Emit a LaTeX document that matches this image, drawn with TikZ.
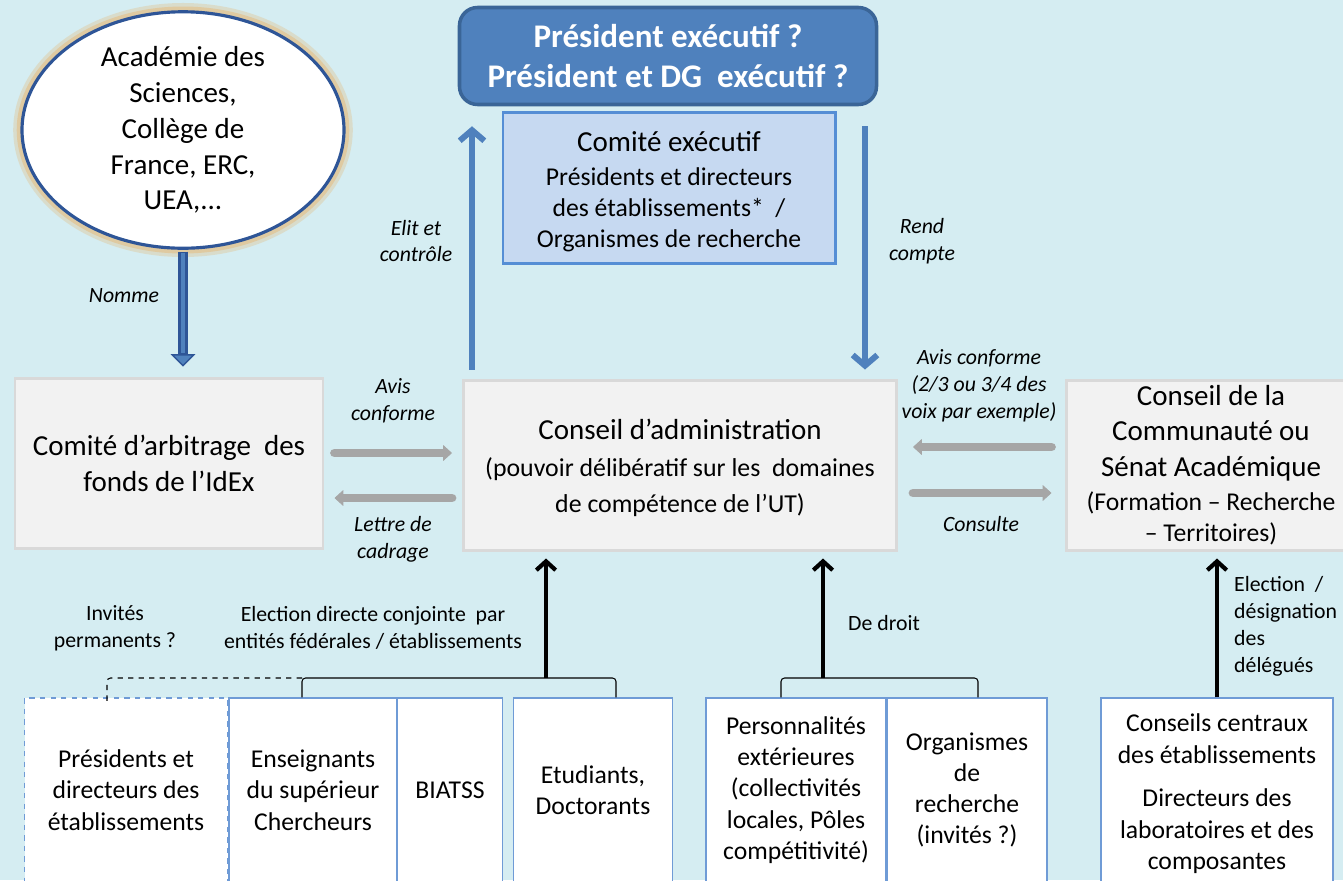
\documentclass[tikz,border=0pt]{standalone}
\usepackage{fontspec}
\setmainfont{Carlito}
\usetikzlibrary{shapes.geometric,arrows.meta}

\newdimen\px \px=0.02cm
\newcommand{\grandf}{\fontsize{16.5}{20.4}\selectfont}
\newcommand{\moyenf}{\fontsize{14.6}{17.8}\selectfont}

\definecolor{fondbleu}{HTML}{D5EDF2}
\definecolor{presfond}{HTML}{4F81BD}
\definecolor{presbord}{HTML}{3A6597}
\definecolor{comexfond}{HTML}{C6D9F1}
\definecolor{comexbord}{HTML}{558ED5}
\definecolor{bleufleche}{HTML}{4F81BD}
\definecolor{bleufonce}{HTML}{2E5597}
\definecolor{halo}{HTML}{E3BE85}
\definecolor{grisfond}{HTML}{F2F2F2}
\definecolor{grisbord}{HTML}{D9D9D9}
\definecolor{grisfleche}{HTML}{A6A6A6}
\definecolor{basbord}{HTML}{6F9BD6}

\tikzset{
  grand/.style={font=\grandf},
  moyen/.style={font=\moyenf},
  petit/.style={font=\fontsize{12.4}{15.3}\selectfont},
  etiq/.style={font=\fontsize{12.4}{15.3}\selectfont\itshape, align=center},
  grisbox/.style={draw=grisbord, fill=grisfond, line width=1.7pt, inner sep=2pt, align=center, minimum height=170\px},
  basbox/.style={draw=basbord, fill=white, line width=0.7pt, minimum height=184\px, inner sep=1pt, align=center, moyen},
  fleche/.style={draw=bleufleche, line width=3.4pt, -{Straight Barb[length=6pt,width=14pt]}},
  grise/.style={draw=grisfleche, line width=5pt, line cap=round, -{Triangle[length=5pt,width=9pt,line width=0.4pt]}},
  noire/.style={line width=2.4pt, -{Straight Barb[length=5pt,width=11pt]}},
  crochet/.style={line width=0.6pt, rounded corners=2pt}
}

\begin{document}
\begin{tikzpicture}[x=0.02cm,y=-0.02cm]
  \useasboundingbox (0,0) rectangle (1343,880);
  \fill[fondbleu] (0,0) rectangle (1343,880);

  % haut
  \node[ellipse, draw=bleufonce, line width=1.8pt, fill=white, minimum width=322\px, minimum height=222\px,
        inner sep=0pt, align=center, grand,
        preaction={draw=halo, line width=10pt, opacity=.35},
        preaction={draw=halo, line width=6pt, opacity=.6}] (acad) at (183,130)
        {Académie des\\Sciences,\\Collège de\\France, ERC,\\UEA,...};
  \node[draw=presbord, fill=presfond, line width=2pt, rounded corners=0.36cm, minimum width=417\px, minimum height=97\px,
        text=white, font=\fontsize{18.8}{22.7}\selectfont\bfseries, align=center] (pres) at (668,56)
        {Président exécutif ?\\Président et DG\ \ exécutif ?};
  \node[draw=comexbord, fill=comexfond, line width=1.7pt, minimum width=332\px, minimum height=151\px,
        align=center, moyen] (comex) at (669,188)
        {\\[-2.2pt]{\grandf Comité exécutif}\\[1.5pt]Présidents et directeurs\\des établissements*\ \ /\\Organismes de recherche};

  % milieu
  \node[grisbox, minimum width=308\px, grand] (arb) at (169,463) {Comité d’arbitrage\ \ des\\fonds de l’IdEx};
  \node[grisbox, minimum width=433\px, font=\fontsize{14.7}{20.8}\selectfont] (ca) at (680,465)
        {\\[-5.7pt]{\grandf Conseil d’administration}\\(pouvoir délibératif sur les\ \ domaines\\de compétence de l’UT)};
  \node[grisbox, minimum width=290\px, grand] (conseil) at (1211,465)
        {Conseil de la\\Communauté ou\\Sénat Académique\\[-1pt]{\moyenf (Formation – Recherche}\\[-3pt]{\moyenf – Territoires)}};

  % bas
  \node[basbox, dashed, minimum width=203\px] (pdir) at (126,790) {Présidents et\\directeurs des\\établissements};
  \node[basbox, minimum width=168\px] (ens) at (313,790) {Enseignants\\du supérieur\\Chercheurs};
  \node[basbox, minimum width=105\px] (biatss) at (450,790) {BIATSS};
  \node[basbox, minimum width=159\px] (etud) at (593,790) {Etudiants,\\Doctorants};
  \node[basbox, minimum width=180\px] (perso) at (796,790) {Personnalités\\extérieures\\(collectivités\\locales, Pôles\\compétitivité)};
  \node[basbox, minimum width=160\px] (orga) at (967,790) {Organismes\\de\\recherche\\(invités ?)};
  \node[basbox, minimum width=232\px] (ccent) at (1217,790)
        {\\[-3.4pt]Conseils centraux\\des établissements\\[7pt]Directeurs des\\laboratoires et des\\composantes};

  % etiquettes
  \node[etiq] (lnomme) at (124,296) {Nomme};
  \node[etiq] (lelit) at (416,241) {Elit et\\contrôle};
  \node[etiq] (lrend) at (922,241) {Rend\\compte};
  \node[etiq] (lavis) at (393,401) {Avis\\conforme};
  \node[etiq] (lcadr) at (393,539) {Lettre de\\cadrage};
  \node[etiq] (lavisb) at (979,386) {Avis conforme\\(2/3 ou 3/4 des\\voix par exemple)};
  \node[etiq] (lcons) at (981,524) {Consulte};
  \node[petit, align=center] (linv) at (115,628) {Invités\\permanents ?};
  \node[petit, align=center] (lelec) at (373,628) {Election directe conjointe\ \ par\\entités fédérales / établissements};
  \node[petit, anchor=west] (ldroit) at (842,623) {De droit};
  \node[petit, align=left, anchor=west] (ldeleg) at (1228,626) {Election\ \ /\\désignation\\des\\délégués};

  \coordinate (elit) at (472,0);
  \coordinate (rend) at (865,0);
  \coordinate (g1) at (0,453);
  \coordinate (g2) at (0,498);
  \coordinate (g3) at (0,447);
  \coordinate (g4) at (0,493);
  \coordinate (dg) at (107,678);
  \coordinate (eg) at (302,678);
  \coordinate (ed) at (616,678);
  \coordinate (elec) at (546,678);
  \coordinate (pg) at (781,678);
  \coordinate (pd) at (978,678);
  \coordinate (droit) at (823,678);

  % fleches
  \draw[draw=bleufonce, line width=6pt, shorten <=1pt, shorten >=10\px,
        -{Triangle[length=7pt,width=14pt,line width=0.8pt,fill=bleufleche]}] (acad.south) -- (acad.south |- arb.north);
  \draw[draw=bleufleche, line width=2pt, shorten <=2pt, shorten >=24\px] (acad.south) -- (acad.south |- arb.north);
  \draw[fleche, shorten <=9\px, shorten >=20\px] (elit |- ca.north) -- (elit |- pres.south);
  \draw[fleche, shorten <=20\px, shorten >=9\px] (rend |- pres.south) -- (rend |- ca.north);
  \draw[grise, shorten <=10\px, shorten >=10\px] (arb.east |- g1) -- (ca.west |- g1);
  \draw[grise, shorten <=10\px, shorten >=10\px] (ca.west |- g2) -- (arb.east |- g2);
  \draw[grise, shorten <=13\px, shorten >=15\px] (conseil.west |- g3) -- (ca.east |- g3);
  \draw[grise, shorten <=15\px, shorten >=13\px] (ca.east |- g4) -- (conseil.west |- g4);

  \draw[crochet] (ens.north -| eg) -- (eg) -- (ed) -- (etud.north -| ed);
  \draw[crochet, dashed] (eg) -- (dg) -- ([yshift=-2pt]pdir.north -| dg);
  \draw[crochet] (perso.north -| pg) -- (pg) -- (pd) -- (orga.north -| pd);
  \draw[noire, shorten >=7\px] (elec) -- (elec |- ca.south);
  \draw[noire, shorten >=7\px] (droit) -- (droit |- ca.south);
  \draw[noire, shorten >=7\px] (ccent.north) -- (ccent.north |- conseil.south);
\end{tikzpicture}
\end{document}
